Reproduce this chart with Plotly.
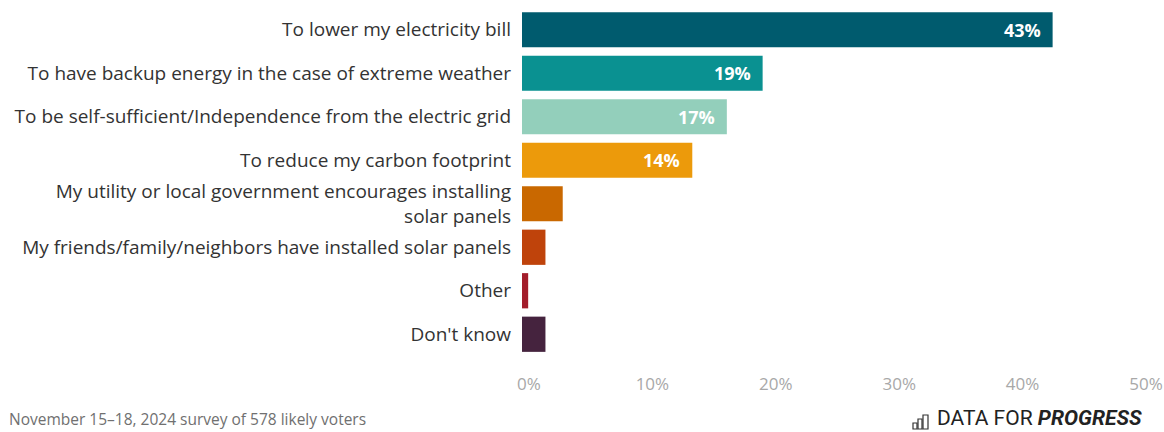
import plotly.graph_objects as go

# Survey responses: reasons for installing solar panels
categories = [
    "To lower my electricity bill",
    "To have backup energy in the case of extreme weather",
    "To be self-sufficient/Independence from the electric grid",
    "To reduce my carbon footprint",
    "My utility or local government encourages installing<br>solar panels",
    "My friends/family/neighbors have installed solar panels",
    "Other",
    "Don't know",
]
values = [43, 19.5, 16.6, 13.8, 3.3, 1.9, 0.5, 1.9]
value_labels = ["43%", "19%", "17%", "14%", "", "", "", ""]
colors = ["#005b6e", "#0a9191", "#93cfbb", "#ec9a0b", "#c96800",
          "#bf430b", "#a31d2b", "#45233e"]

tick_vals = [0, 10, 20, 30, 40, 50]
tick_text = ["0%", "10%", "20%", "30%", "40%", "50%"]

W, H = 1164, 432
ML, MR, MT, MB = 522, 25, 8, 76
PW, PH = W - ML - MR, H - MT - MB


def px(xp):
    return (xp - ML) / PW


def py(yp):
    return (H - MB - yp) / PH


fig = go.Figure(
    go.Bar(
        x=values,
        y=categories,
        orientation="h",
        marker=dict(color=colors, line=dict(width=0)),
        hoverinfo="skip",
    )
)

# value labels inside the bar ends
for cat, v, lab in zip(categories, values, value_labels):
    if lab:
        fig.add_annotation(
            x=v, y=cat, xref="x", yref="y", text=f"<b>{lab}</b>",
            showarrow=False, xanchor="right", xshift=-10,
            font=dict(family="Open Sans", size=18, color="white"),
        )

# footer note
fig.add_annotation(
    x=px(8), y=py(H - 1), xref="paper", yref="paper",
    text="November 15\u201318, 2024 survey of 578 likely voters",
    showarrow=False, xanchor="left", yanchor="bottom", borderpad=0,
    font=dict(family="Open Sans", size=15.5, color="#707070"),
)

# brand mark
fig.add_annotation(
    x=px(1143), y=py(H - 1), xref="paper", yref="paper",
    text="DATA FOR <b><i>PROGRESS</i></b>",
    showarrow=False, xanchor="right", yanchor="bottom", borderpad=0,
    font=dict(family="Roboto", size=21, color="#222222"),
)
icon = [(913, 917, 423), (918, 922, 419), (923, 928, 415)]
for x0, x1, ytop in icon:
    fig.add_shape(
        type="rect", xref="paper", yref="paper",
        x0=px(x0), x1=px(x1), y0=py(429), y1=py(ytop),
        line=dict(color="#333333", width=1.2), fillcolor="rgba(0,0,0,0)",
    )

fig.update_layout(
    width=W, height=H,
    margin=dict(l=ML, r=MR, t=MT, b=MB, autoexpand=False),
    paper_bgcolor="white", plot_bgcolor="white",
    bargap=0.19,
    showlegend=False,
    font=dict(family="Open Sans"),
    xaxis=dict(
        range=[0, 50], tickvals=tick_vals, ticktext=tick_text,
        showgrid=False, zeroline=False, showline=False, ticks="",
        ticklabelstandoff=16, ticklabelshift=7, automargin=False,
        tickfont=dict(family="Open Sans", size=17, color="#a8a8a8"),
        fixedrange=True,
    ),
    yaxis=dict(
        autorange="reversed", showgrid=False, zeroline=False,
        showline=False, ticks="", ticklabelstandoff=10, automargin=False,
        tickfont=dict(family="Open Sans", size=19, color="#333333"),
        fixedrange=True,
    ),
)

fig.write_html("out.html", config={"displayModeBar": False})
